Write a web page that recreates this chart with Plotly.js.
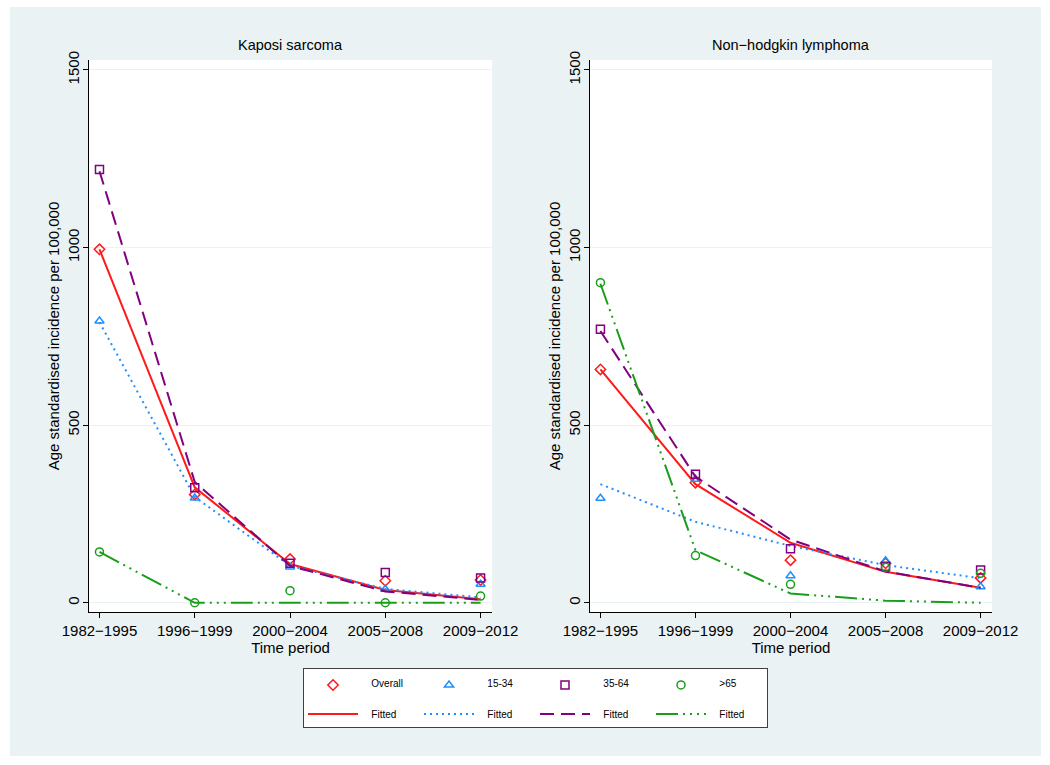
<!DOCTYPE html>
<html><head><meta charset="utf-8">
<script src="https://cdn.plot.ly/plotly-3.0.1.min.js"></script>
<style>
html,body{margin:0;padding:0;background:#ffffff;width:1050px;height:765px;overflow:hidden}
#chart{position:absolute;left:10px;top:7px;width:1031px;height:749px}
</style>
</head><body><div id="chart"></div>
<script>
// ---- data ----
const periods = ['1982\u22121995', '1996\u22121999', '2000\u22122004', '2005\u22122008', '2009\u22122012'];
const groupNames = ['Overall', '15-34', '35-64', '>65'];
const fittedLabel = 'Fitted';
const panelTitles = ['Kaposi sarcoma', 'Non\u2212hodgkin lymphoma'];

// Kaposi sarcoma: observed
const ksOverall = [995, 305, 123, 62, 64];
const ks15_34   = [793, 295, 101, 38, 52];
const ks35_64   = [1220, 324, 111, 85, 70];
const ks65      = [143, 0, 34, 0, 19];
// Kaposi sarcoma: fitted
const ksOverallFit = [995, 325, 109, 36, 10];
const ks15_34Fit   = [790, 298, 104, 39, 15];
const ks35_64Fit   = [1215, 340, 104, 32, 8];
const ks65Fit      = [143, 0, 0, 0, 0];

// Non-hodgkin lymphoma: observed
const nhlOverall = [657, 338, 120, 111, 70];
const nhl15_34   = [294, 348, 76, 118, 45];
const nhl35_64   = [770, 362, 152, 103, 92];
const nhl65      = [901, 133, 52, 100, 83];
// Non-hodgkin lymphoma: fitted
const nhlOverallFit = [657, 334, 169, 87, 42];
const nhl15_34Fit   = [334, 228, 160, 106, 69];
const nhl35_64Fit   = [765, 355, 178, 88, 42];
const nhl65Fit      = [898, 148, 26, 6, 0];

// ---- styles ----
const colors = ['#ff1a1a', '#1e90ff', '#800080', '#1a9e1a'];
const symbols = ['diamond-open', 'triangle-up-open', 'square-open', 'circle-open'];
const dashes = ['solid', '2px,4px', '14px,7px', '22px,5px,2px,5px,2px,5px,2px,5px'];
const pad = '&nbsp;&nbsp;&nbsp;';

const panels = [
  {obs: [ksOverall, ks15_34, ks35_64, ks65], fit: [ksOverallFit, ks15_34Fit, ks35_64Fit, ks65Fit], xa: 'x', ya: 'y'},
  {obs: [nhlOverall, nhl15_34, nhl35_64, nhl65], fit: [nhlOverallFit, nhl15_34Fit, nhl35_64Fit, nhl65Fit], xa: 'x2', ya: 'y2'}
];

const traces = [];
panels.forEach((p, pi) => {
  for (let g = 0; g < 4; g++) {
    traces.push({
      type: 'scatter', mode: 'markers', x: periods, y: p.obs[g],
      xaxis: p.xa, yaxis: p.ya, name: pad + groupNames[g], legendgroup: 'g' + g,
      showlegend: pi === 0,
      marker: {symbol: symbols[g], size: 8, color: colors[g], line: {color: colors[g], width: 1.5}},
      hovertemplate: '%{x}: %{y}<extra>' + groupNames[g] + '</extra>'
    });
    traces.push({
      type: 'scatter', mode: 'lines', x: periods, y: p.fit[g],
      xaxis: p.xa, yaxis: p.ya, name: '<br>' + pad + fittedLabel, legendgroup: 'g' + g,
      showlegend: pi === 0,
      line: {color: colors[g], width: 2, dash: dashes[g]},
      hovertemplate: '%{x}: %{y}<extra>' + fittedLabel + '</extra>'
    });
  }
});

const tickFont = {family: 'Liberation Sans, Arial, sans-serif', size: 15, color: '#000'};
function yax(anchor) {
  return {
    anchor: anchor, range: [-26, 1528], tickvals: [0, 500, 1000, 1500],
    tickangle: -90, ticks: 'outside', ticklen: 5, tickcolor: '#000', tickwidth: 1,
    ticklabelstandoff: -2,
    showline: true, linecolor: '#000', linewidth: 1, mirror: false,
    showgrid: true, gridcolor: '#EAF2F3', gridwidth: 1, zeroline: false,
    tickfont: tickFont,
    title: {text: 'Age standardised incidence per 100,000', font: tickFont, standoff: 1}
  };
}
function xax(anchor, domain) {
  return {
    anchor: anchor, domain: domain, type: 'category', categoryarray: periods,
    range: [-0.11, 4.12], ticks: 'outside', ticklen: 5, tickcolor: '#000', tickwidth: 1,
    showline: true, linecolor: '#000', linewidth: 1, showgrid: false, zeroline: false,
    tickfont: tickFont,
    title: {text: 'Time period', font: tickFont, standoff: 0}
  };
}

const layout = {
  width: 1031, height: 749,
  margin: {l: 79, r: 49, t: 53, b: 144},
  paper_bgcolor: '#EAF2F3', plot_bgcolor: '#ffffff',
  font: {family: 'Liberation Sans, Arial, sans-serif', color: '#000'},
  xaxis: xax('y', [0, 0.4463]),
  yaxis: yax('x'),
  xaxis2: xax('y2', [0.5548, 1]),
  yaxis2: yax('x2'),
  showlegend: true,
  legend: {
    orientation: 'h', traceorder: 'grouped', x: 0.237, y: -0.1014,
    xanchor: 'left', yanchor: 'top', bgcolor: '#ffffff', bordercolor: '#404040', borderwidth: 1,
    font: {family: 'Liberation Sans, Arial, sans-serif', size: 10, color: '#000'},
    itemwidth: 50, valign: 'bottom', tracegroupgap: 0, entrywidth: 51
  },
  annotations: panelTitles.map((t, i) => ({
    text: t, xref: i === 0 ? 'x domain' : 'x2 domain', yref: 'paper', x: 0.5, y: 1.028,
    xanchor: 'center', yanchor: 'middle', showarrow: false,
    font: {family: 'Liberation Sans, Arial, sans-serif', size: 14.5, color: '#000'}
  }))
};

Plotly.newPlot('chart', traces, layout, {displayModeBar: false});
</script>
</body></html>
